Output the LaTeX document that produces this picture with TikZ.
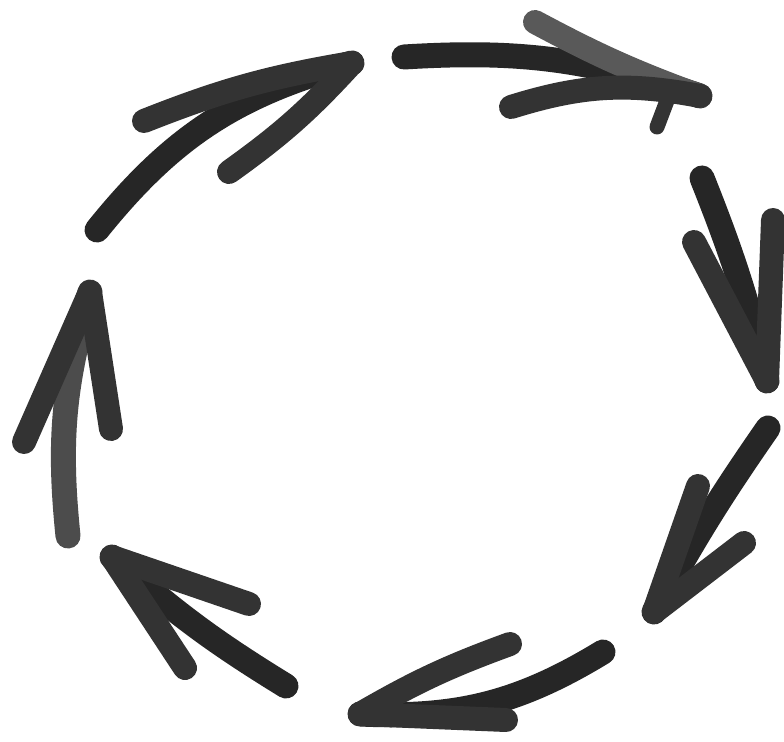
\documentclass[tikz,border=0pt]{standalone}
\usepackage{tikz}
\usetikzlibrary{positioning}

\begin{document}
\begin{tikzpicture}[x=0.02cm,y=0.02cm]
	 \tikzstyle{shaft}=[draw,line width=0.5cm,line cap=round,black!85]
	 \tikzstyle{barb}=[draw,line width=0.48cm,line cap=round,black!80]
	 \useasboundingbox[fill=white] (0,0) rectangle (784,-742);
	 % arrow 1, top left
	 \coordinate (s1) at (97,-230);
	 \coordinate (t1) at (352,-63);
	 \coordinate (b1a) at (144,-121);
	 \coordinate (b1b) at (229,-172);
	 % arrow 2, top right
	 \coordinate (s2) at (404,-57);
	 \coordinate (t2) at (700,-96);
	 \coordinate (b2a) at (535,-22);
	 \coordinate (b2b) at (511,-107);
	 \coordinate (d1) at (668,-98);
	 \coordinate (d2) at (657,-127);
	 % arrow 3, right
	 \coordinate (s3) at (702,-178);
	 \coordinate (t3) at (767,-381);
	 \coordinate (b3a) at (694,-242);
	 \coordinate (b3b) at (773,-220);
	 % arrow 4, lower right
	 \coordinate (s4) at (768,-428);
	 \coordinate (t4) at (654,-612);
	 \coordinate (b4a) at (698,-486);
	 \coordinate (b4b) at (744,-543);
	 % arrow 5, bottom
	 \coordinate (s5) at (603,-652);
	 \coordinate (t5) at (360,-714);
	 \coordinate (b5a) at (510,-644);
	 \coordinate (b5b) at (506,-720);
	 % arrow 6, lower left
	 \coordinate (s6) at (286,-686);
	 \coordinate (t6) at (112,-557);
	 \coordinate (b6a) at (249,-604);
	 \coordinate (b6b) at (185,-668);
	 % arrow 7, left
	 \coordinate (s7) at (68,-536);
	 \coordinate (t7) at (90,-292);
	 \coordinate (b7a) at (24,-442);
	 \coordinate (b7b) at (111,-429);

	 \draw[shaft] (s1) to[bend left=18] (t1);
	 \draw[barb] (t1) to[bend right=6] (b1a);
	 \draw[barb] (t1) to[bend left=6] (b1b);

	 \draw[shaft] (s2) to[bend left=11] (t2);
	 \draw[barb,black!65] (t2) to[bend left=4] (b2a);
	 \draw[barb] (t2) to[bend right=14] (b2b);
	 \draw[barb,line width=0.3cm] (d1) -- (d2);

	 \draw[shaft] (s3) to[bend left=4] (t3);
	 \draw[barb] (t3) -- (b3a);
	 \draw[barb] (t3) -- (b3b);

	 \draw[shaft] (s4) to[bend right=3] (t4);
	 \draw[barb] (t4) -- (b4a);
	 \draw[barb] (t4) -- (b4b);

	 \draw[shaft] (s5) to[bend left=17] (t5);
	 \draw[barb] (t5) to[bend left=5] (b5a);
	 \draw[barb] (t5) -- (b5b);

	 \draw[shaft] (s6) to[bend left=5] (t6);
	 \draw[barb] (t6) -- (b6a);
	 \draw[barb] (t6) -- (b6b);

	 \draw[shaft,black!70] (s7) to[bend left=11] (t7);
	 \draw[barb] (t7) -- (b7a);
	 \draw[barb] (t7) -- (b7b);
\end{tikzpicture}
\end{document}
